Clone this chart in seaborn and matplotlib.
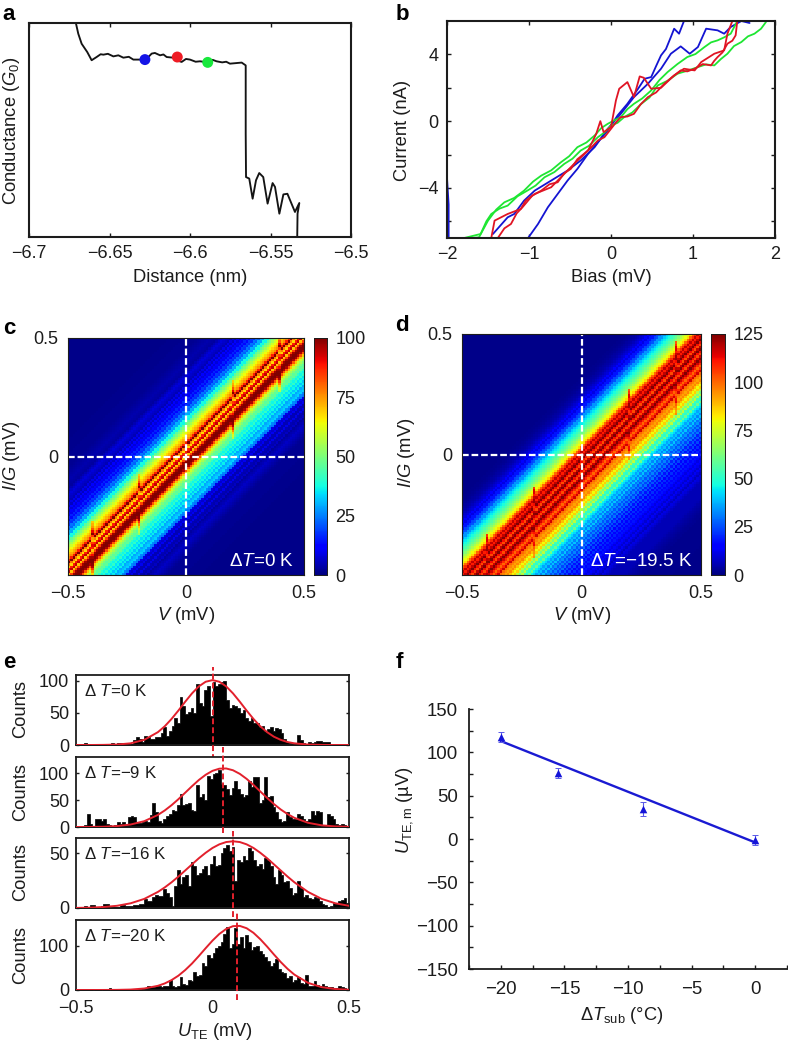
import numpy as np
import matplotlib
matplotlib.use('Agg')
import matplotlib.pyplot as plt
import seaborn as sns

W, H = 788, 1045

# panel a
dist = [-6.6708, -6.6694, -6.6673, -6.6638, -6.6611, -6.658, -6.6555, -6.6538, -6.651, -6.6476, -6.6445, -6.6414, -6.638, -6.6352, -6.63, -6.6269,
        -6.6238, -6.6218, -6.6186, -6.6165, -6.6145, -6.6104, -6.6075, -6.6052, -6.6025, -6.6, -6.5965, -6.5938, -6.5886, -6.586, -6.5835, -6.58, -6.5775, -6.5752, -6.5679,
        -6.5654, -6.5654, -6.5652, -6.5632, -6.5611, -6.559, -6.557, -6.5545, -6.5518, -6.5487, -6.5472, -6.5445,
        -6.542, -6.5395, -6.5348, -6.5321, -6.5332, -6.5334]
cond = [99.7, 95, 90.3, 86.4, 82.6, 84.1, 85.4, 85.2, 85.6, 84.4, 84.9, 83.8, 84.2, 82.9, 82.9, 83.3,
        85.7, 86, 84.9, 85.3, 84.1, 83.8, 82.4, 81.8, 83.2, 82.9, 81.9, 82.1, 81.6, 82.8, 82.1, 81.6, 81.9, 81, 81.5,
        80.2, 48.3, 28, 27.3, 17.9, 26.5, 29.9, 28, 15.6, 25.2, 23.4, 10.9,
        19.9, 20.2, 11.7, 15.9, 10.9, 0]
dot_x = [-6.628, -6.6079, -6.589]
dot_y = [82.9, 84.1, 81.6]
dot_colors = ['#1414e6', '#ee1c25', '#18e83c']

# panel b
blue1_x = [-1.02, -0.89, -0.77, -0.65, -0.53, -0.41, -0.28, -0.16, -0.04, 0.08, 0.20, 0.33, 0.41, 0.49, 0.55, 0.61, 0.67, 0.73, 0.77, 0.83, 0.89]
blue1_y = [-7.06, -6.16, -5.16, -4.36, -3.56, -2.86, -1.96, -1.26, -0.56, 0.34, 1.04, 1.94, 2.54, 2.64, 3.30, 3.94, 4.32, 5.04, 5.54, 5.24, 6.0]
blue2_x = [-1.44, -1.26, -1.18, -1.06, -0.93, -0.73, -0.53, -0.37, -0.20, -0.04, 0.12, 0.28, 0.45, 0.61, 0.73, 0.85, 0.96, 1.06, 1.16, 1.30, 1.38, 1.46, 1.59, 1.69]
blue2_y = [-6.76, -5.76, -5.56, -4.76, -4.16, -3.56, -2.96, -2.36, -1.56, -0.46, 0.44, 1.44, 2.24, 3.14, 4.04, 4.48, 4.04, 4.44, 5.54, 5.44, 5.24, 5.64, 6.0, 5.88]
spike_x = [-2.0, -1.98, -1.98]
spike_y = [-3.4, -5.0, -7.0]
red1_x = [-1.46, -1.42, -1.26, -1.10, -1.04, -0.93, -0.73, -0.61, -0.45, -0.28, -0.18, -0.13, -0.09, 0.0, 0.06, 0.10, 0.20, 0.28, 0.35, 0.40, 0.49, 0.61, 0.77, 0.89, 1.02, 1.10, 1.26, 1.38, 1.42, 1.48]
red1_y = [-7.0, -5.96, -5.56, -5.26, -4.76, -4.36, -3.96, -3.36, -2.56, -1.76, -0.76, 0.0, -0.66, -0.36, 1.24, 1.94, 2.34, 1.44, 2.68, 2.6, 1.94, 2.0, 2.74, 3.14, 3.04, 3.54, 4.04, 4.24, 5.24, 6.0]
red2_x = [-1.38, -1.30, -1.22, -1.15, -1.08, -0.96, -0.85, -0.75, -0.65, -0.57, -0.49, -0.41, -0.33, -0.25, -0.16, -0.08, 0.0, 0.06, 0.12, 0.20, 0.28, 0.36, 0.45, 0.55, 0.65, 0.75, 0.85, 0.93, 1.02, 1.12, 1.22, 1.26, 1.30, 1.36, 1.42, 1.48, 1.52, 1.54]
red2_y = [-7.0, -6.42, -6.16, -5.52, -5.16, -4.46, -4.16, -3.78, -3.66, -3.12, -2.86, -2.28, -1.96, -1.62, -1.16, -0.96, -0.46, -0.08, 0.24, 0.28, 0.44, 1.0, 1.44, 1.72, 2.24, 2.66, 3.04, 2.98, 3.14, 3.42, 3.34, 3.62, 3.84, 4.12, 4.64, 4.82, 5.14, 6.0]
green1_x = [-1.79, -1.59, -1.52, -1.46, -1.36, -1.26, -1.14, -1.02, -0.92, -0.81, -0.69, -0.57, -0.47, -0.37, -0.27, -0.16, -0.08, 0.0, 0.08, 0.16, 0.26, 0.37, 0.47, 0.57, 0.69, 0.81, 0.93, 1.06, 1.16, 1.26, 1.34, 1.42, 1.50, 1.59, 1.67, 1.75, 1.83, 1.89]
green1_y = [-7.0, -6.76, -6.0, -5.56, -5.24, -5.06, -4.50, -4.16, -3.86, -3.36, -3.05, -2.56, -2.25, -1.76, -1.48, -0.96, -0.68, -0.26, -0.10, 0.24, 0.52, 1.04, 1.42, 2.14, 2.42, 2.84, 3.02, 3.24, 3.40, 3.34, 3.72, 4.04, 4.50, 4.74, 5.08, 5.24, 5.54, 5.94]
green2_x = [-1.71, -1.61, -1.50, -1.40, -1.30, -1.18, -1.06, -0.95, -0.85, -0.73, -0.61, -0.51, -0.41, -0.30, -0.20, -0.12, -0.04, 0.04, 0.12, 0.20, 0.28, 0.38, 0.49, 0.59, 0.69, 0.81, 0.93, 1.03, 1.14, 1.22, 1.30, 1.38, 1.46, 1.54]
green2_y = [-7.0, -6.96, -5.96, -5.3, -4.86, -4.6, -4.16, -3.62, -3.26, -2.95, -2.46, -2.1, -1.56, -1.28, -0.86, -0.42, -0.16, 0.05, 0.24, 0.72, 1.04, 1.36, 1.84, 2.46, 2.94, 3.42, 3.84, 4.02, 4.44, 4.72, 4.84, 5.02, 5.24, 6.0]

# panels c and d: counts across the diagonal, read along I/G - V
map_c_offset = [0.6, 0.45, 0.40, 0.37, 0.34, 0.31, 0.30, 0.29, 0.28, 0.27, 0.26, 0.25, 0.24, 0.23, 0.22, 0.21, 0.20, 0.19, 0.18, 0.17, 0.16, 0.15, 0.14, 0.13, 0.12, 0.11, 0.10, 0.09, 0.08, 0.07, 0.06, 0.05, 0.04,
                0.03, 0.02, 0.01, 0.0, -0.01, -0.02, -0.03, -0.04, -0.05, -0.06, -0.07, -0.08, -0.09, -0.10, -0.11, -0.12, -0.13, -0.14, -0.15, -0.16, -0.17, -0.18,
                -0.19, -0.20, -0.21, -0.22, -0.23, -0.24, -0.25, -0.26, -0.27, -0.28, -0.29, -0.30, -0.31, -0.32, -0.33, -0.34, -0.37, -0.42, -0.6]
map_c_counts = [1, 2, 4, 3, 8, 5, 9, 6, 12, 8, 12, 10, 16, 13, 18, 17, 24, 22, 30, 29, 38, 37, 46, 50, 55, 60, 64, 68, 72, 76, 88, 100, 78,
                68, 88, 94, 70, 84, 97, 100, 100, 96, 82, 70, 60, 55, 50, 46, 47, 41, 37, 41, 35, 37, 32,
                36, 29, 31, 33, 26, 24, 9, 7, 10, 5, 5, 9, 5, 4, 6, 3, 6, 2, 1]
map_d_offset = [0.7, 0.35, 0.30, 0.26, 0.23, 0.22, 0.21, 0.20, 0.19, 0.18, 0.17, 0.16, 0.15, 0.14, 0.12, 0.10, 0.08, 0.06, 0.04, 0.03, 0.02, 0.01, 0.0, -0.01, -0.02, -0.03, -0.04, -0.05, -0.06,
                -0.07, -0.08, -0.09, -0.10, -0.11, -0.12, -0.13, -0.14, -0.15, -0.16, -0.17, -0.18, -0.19, -0.20, -0.21, -0.22, -0.23, -0.24, -0.25, -0.26, -0.27, -0.28, -0.29, -0.30,
                -0.31, -0.32, -0.33, -0.34, -0.35, -0.36, -0.37, -0.38, -0.39, -0.40, -0.41, -0.42, -0.43, -0.44, -0.45, -0.46, -0.47, -0.48, -0.49, -0.50,
                -0.52, -0.53, -0.55, -0.56, -0.58, -0.59, -0.62, -0.68, -0.75, -1.0]
map_d_counts = [1, 1, 2, 5, 10, 14, 11, 18, 18, 24, 26, 34, 34, 41, 48, 56, 64, 75, 85, 100, 108, 118, 110, 118, 125, 112, 104, 118, 125,
                112, 104, 116, 125, 116, 108, 100, 108, 116, 100, 96, 92, 96, 88, 80, 86, 72, 62, 72, 54, 50, 60, 46, 42,
                36, 40, 32, 40, 30, 34, 26, 32, 24, 30, 20, 26, 18, 24, 16, 21, 15, 20, 14, 18,
                11, 15, 9, 13, 7, 11, 6, 6, 2, 1]
streak_v = [-0.4, -0.2, 0.2, 0.4]

# panel e
counts_0 = [0, 0, 0, 3, 1, 0, 0, 0, 0, 0,
            0, 1, 2, 3, 2, 3, 3, 3, 3, 3,
            2, 8, 12, 10, 4, 14, 13, 9, 10, 12,
            13, 18, 28, 14, 22, 30, 42, 35, 74, 60,
            48, 52, 58, 50, 95, 65, 60, 85, 92, 45,
            98, 92, 95, 98, 100, 70, 58, 62, 60, 58,
            50, 55, 42, 38, 42, 35, 35, 28, 30, 22,
            25, 28, 22, 26, 25, 18, 10, 5, 3, 2,
            1, 15, 8, 3, 2, 5, 3, 5, 6, 7,
            4, 5, 5, 2, 0, 0, 0, 0, 0, 0]
counts_9 = [2, 2, 1, 3, 25, 6, 2, 14, 14, 12,
            15, 5, 3, 2, 3, 9, 5, 10, 3, 18,
            20, 18, 8, 8, 10, 12, 10, 22, 45, 28,
            12, 8, 14, 20, 25, 32, 30, 40, 62, 40,
            42, 45, 32, 30, 78, 55, 62, 50, 95, 90,
            98, 100, 105, 80, 78, 70, 60, 72, 85, 70,
            62, 55, 60, 85, 75, 92, 92, 45, 50, 92,
            55, 58, 38, 28, 15, 10, 12, 28, 18, 15,
            15, 25, 20, 15, 12, 14, 30, 22, 30, 28,
            2, 3, 25, 20, 14, 6, 4, 5, 4, 0]
counts_16 = [0, 0, 1, 2, 1, 3, 3, 1, 0, 2,
             4, 4, 1, 1, 1, 1, 3, 3, 2, 2,
             2, 3, 3, 4, 4, 8, 6, 6, 10, 12,
             11, 11, 17, 14, 10, 2, 20, 35, 22, 28,
             30, 20, 42, 38, 30, 32, 36, 38, 30, 40,
             48, 38, 39, 50, 55, 58, 52, 56, 25, 44,
             42, 48, 44, 55, 52, 44, 38, 40, 36, 46,
             44, 38, 28, 22, 35, 30, 24, 25, 18, 12,
             14, 25, 18, 10, 12, 9, 8, 10, 9, 6,
             4, 3, 1, 2, 5, 5, 6, 7, 9, 5]
counts_20 = [0, 0, 0, 0, 0, 0, 3, 1, 1, 3,
             0, 1, 4, 0, 0, 0, 0, 0, 0, 0,
             1, 3, 2, 1, 3, 2, 10, 6, 7, 8,
             10, 7, 8, 8, 22, 8, 6, 10, 30, 14,
             12, 22, 20, 40, 32, 35, 62, 55, 80, 72,
             85, 95, 100, 110, 128, 142, 95, 105, 140, 105,
             120, 95, 125, 110, 90, 98, 100, 88, 82, 75,
             65, 55, 62, 70, 48, 40, 38, 28, 32, 18,
             22, 30, 16, 14, 35, 10, 10, 20, 12, 10,
             13, 10, 6, 6, 4, 5, 8, 6, 5, 2]
fit_x = [-0.5, -0.45, -0.4, -0.35, -0.3, -0.25, -0.2, -0.175, -0.15, -0.125, -0.1, -0.075, -0.05, -0.025, 0.0,
         0.025, 0.05, 0.075, 0.1, 0.125, 0.15, 0.175, 0.2, 0.225, 0.25, 0.275, 0.3, 0.35, 0.4, 0.45, 0.5]
fit_0 = [0, 0, 0.2, 0.7, 2.6, 8, 20, 29.1, 40.6, 53.6, 67.4, 80.4, 91.3, 98.5, 101,
         98.5, 91.3, 80.4, 67.4, 53.6, 40.6, 29.1, 20, 12.9, 8, 4.6, 2.6, 0.7, 0.2, 0, 0]
fit_9 = [0, 0.15, 0.5, 1.7, 4.6, 10.8, 22.4, 30.7, 40.5, 51.6, 63.7, 75.8, 87.3, 97, 104.3,
         108.3, 108.7, 105.4, 98.7, 89.4, 78.2, 66, 54, 42.6, 32.5, 24, 17, 7.8, 3.1, 1.1, 0.3]
fit_16 = [0.1, 0.3, 0.9, 2, 4.3, 8.3, 14.7, 18.8, 23.5, 28.7, 34.3, 39.9, 45.5, 50.5, 54.9,
          58.2, 60.3, 61, 60.3, 58.2, 54.9, 50.5, 45.5, 39.9, 34.3, 28.7, 23.5, 14.7, 8.3, 4.3, 2]
fit_20 = [0, 0, 0.1, 0.3, 1, 3.4, 9.5, 14.9, 22.5, 32.5, 45.3, 60.2, 77.2, 95, 112.2,
          127.3, 138.6, 145, 145.6, 140.3, 129.9, 115.4, 98.6, 80.7, 63.5, 48, 34.9, 16.2, 6.4, 2.2, 0.6]
peak_pos = [0.0, 0.04, 0.075, 0.09]
peak_low = [-23, -12, -8, -23]
peak_high = [122, 148, 70.5, 174]
hist_labels = ['Δ $T$=0 K', 'Δ $T$=−9 K', 'Δ $T$=−16 K', 'Δ $T$=−20 K']
hist_tops = [109, 130, 64, 159]

# panel f
dt_sub = [-20, -15.5, -8.8, 0]
u_te = [118, 76, 35, -1]
u_err = [6, 6, 8, 6]
fit_dt = [-20, 0]
fit_u = [113, -4]

sns.set_theme(style='ticks')
plt.rcParams['font.family'] = ['Liberation Sans', 'DejaVu Sans']
plt.rcParams['mathtext.fontset'] = 'custom'
plt.rcParams['mathtext.rm'] = 'Liberation Sans'
plt.rcParams['mathtext.it'] = 'Liberation Sans:italic'
plt.rcParams['mathtext.bf'] = 'Liberation Sans:bold'
plt.rcParams['axes.unicode_minus'] = True
FS = 13
INK = '#1c1c1c'

fig = plt.figure(figsize=(W / 100, H / 100), dpi=100, facecolor='white')


def add_ax(left, top, right, bottom):
    return fig.add_axes([left / W, 1 - bottom / H, (right - left) / W, (bottom - top) / H])


def xlabel_at(ax, text, x, y):
    ax.set_xlabel(text, fontsize=FS + 0.2, color=INK, va='center', ha='center')
    ax.xaxis.set_label_coords(x / W, 1 - y / H, transform=fig.transFigure)


def ylabel_at(ax, text, x, y):
    ax.set_ylabel(text, fontsize=FS + 0.2, color=INK, va='center', ha='center', rotation=90)
    ax.yaxis.set_label_coords(x / W, 1 - y / H, transform=fig.transFigure)


def box(ax, lw=1.5):
    for s in ax.spines.values():
        s.set_visible(True)
        s.set_linewidth(lw)
        s.set_color(INK)


# a
ax = add_ax(29, 23, 351, 237)
sns.lineplot(x=dist, y=cond, sort=False, estimator=None, color='#141414', lw=1.35, ax=ax)
sns.scatterplot(x=dot_x, y=dot_y, c=dot_colors, s=62, linewidth=0, zorder=5, ax=ax)
ax.set_xlim(-6.7, -6.5)
ax.set_ylim(0, 100)
ax.set_xticks([-6.7, -6.65, -6.6, -6.55, -6.5])
ax.set_xticklabels(['−6.7', '−6.65', '−6.6', '−6.55', '−6.5'])
ax.set_yticks([])
ax.tick_params(axis='x', direction='in', top=True, length=3, width=1, labelsize=FS, pad=6, colors=INK)
box(ax)
xlabel_at(ax, 'Distance (nm)', 190, 278)
ylabel_at(ax, 'Conductance ($G_0$)', 12, 131)

# b
ax = add_ax(447, 21, 775, 238)
lines_b = [(spike_x, spike_y, '#1414d2'), (blue1_x, blue1_y, '#1414d2'), (blue2_x, blue2_y, '#1414d2'),
           (green1_x, green1_y, '#1ee632'), (green2_x, green2_y, '#1ee632'),
           (red1_x, red1_y, '#e01424'), (red2_x, red2_y, '#e01424')]
for lx, ly, col in lines_b:
    sns.lineplot(x=lx, y=ly, sort=False, estimator=None, color=col, lw=1.3, ax=ax)
ax.set_xlim(-2, 2)
ax.set_ylim(-7, 6)
ax.set_xticks([-2, -1, 0, 1, 2])
ax.set_xticklabels(['−2', '−1', '0', '1', '2'])
ax.set_yticks([-4, 0, 4])
ax.set_yticklabels(['−4', '0', '4'])
ax.set_yticks([-6, -2, 2], minor=True)
ax.tick_params(which='both', direction='in', top=True, right=True, length=3, width=1, labelsize=FS, pad=6, colors=INK)
box(ax)
xlabel_at(ax, 'Bias (mV)', 611, 278)
ylabel_at(ax, 'Current (nA)', 403, 130)

# c and d
n_cells = 101
cell_v = np.linspace(-0.5, 0.5, n_cells)
grid_v, grid_g = np.meshgrid(cell_v, cell_v)


def draw_map(box_map, box_bar, offsets, counts, vmax, bar_ticks, note, note_xy, lab_x, lab_y, band):
    ax = add_ax(*box_map)
    cax = add_ax(*box_bar)
    off = grid_g - grid_v
    z = np.interp(off, offsets[::-1], counts[::-1])
    # the vertical smears at +-0.2 and +-0.4 mV widen the band in a few columns
    mid = (band[0] + band[1]) / 2
    for v in streak_v:
        col = np.abs(cell_v - v) < 0.008
        smear = np.interp(mid + (off[:, col] - mid) * 0.72, offsets[::-1], counts[::-1])
        inside = (off[:, col] > band[0]) & (off[:, col] < band[1])
        z[:, col] = np.where(inside, smear, z[:, col])
    sns.heatmap(z, cmap='jet', vmin=0, vmax=vmax, ax=ax, cbar_ax=cax, xticklabels=False, yticklabels=False)
    ax.set_ylim(0, n_cells)
    pos = [0, n_cells / 2, n_cells]
    ax.set_xticks(pos)
    ax.set_xticklabels(['−0.5', '0', '0.5'])
    ax.set_yticks(pos)
    ax.set_yticklabels(['−0.5', '0', '0.5'], rotation=0)
    ax.get_yticklabels()[0].set_visible(False)
    ax.tick_params(length=0, labelsize=FS, pad=7, colors=INK)
    ax.axvline(n_cells / 2, color='white', lw=1.6, dashes=(3, 1.3))
    ax.axhline(n_cells / 2, color='white', lw=1.6, dashes=(3, 1.3))
    box(ax, 0.8)
    cax.set_yticks(bar_ticks)
    cax.set_yticklabels([str(t) for t in bar_ticks])
    cax.tick_params(length=0, labelsize=FS, pad=6, colors=INK)
    box(cax, 0.6)
    fig.text(note_xy[0] / W, 1 - note_xy[1] / H, note, color='white', fontsize=13.6, ha='center', va='center')
    xlabel_at(ax, '$V$ (mV)', lab_x, 616)
    ylabel_at(ax, '$I/G$ (mV)', 12 if lab_x < 300 else 406, lab_y)
    return ax


draw_map((68, 338, 304, 575), (314, 338, 327, 575), map_c_offset, map_c_counts, 100, [0, 25, 50, 75, 100],
         'Δ$T$=0 K', (262, 561), 186, 456, (-0.13, 0.13))
draw_map((462, 334, 701, 575), (711, 334, 725, 575), map_d_offset, map_d_counts, 125, [0, 25, 50, 75, 100, 125],
         'Δ$T$=−19.5 K', (641, 561), 582, 453, (-0.23, 0.07))

# e
edges = np.linspace(-0.5, 0.5, 101)
centres = (edges[:-1] + edges[1:]) / 2
rows = [(675, 745), (757, 827), (838, 908), (920, 990)]
hist_counts = [counts_0, counts_9, counts_16, counts_20]
hist_fits = [fit_0, fit_9, fit_16, fit_20]
hist_yticks = [[0, 50, 100], [0, 50, 100], [0, 50], [0, 100]]
label_rows = [709, 792, 872, 955]
e_axes = []
for i, (top, bottom) in enumerate(rows):
    ax = add_ax(76, top, 349, bottom)
    sns.histplot(x=centres, weights=hist_counts[i], bins=100, binrange=(-0.5, 0.5), element='step', color='black',
                 alpha=1, linewidth=0.5, edgecolor='black', ax=ax)
    sns.lineplot(x=fit_x, y=hist_fits[i], color='#e2202c', lw=1.4, ax=ax, zorder=4)
    ax.set_xlim(-0.5, 0.5)
    ax.set_ylim(0, hist_tops[i])
    ax.set_yticks(hist_yticks[i])
    ax.set_yticklabels([str(t) for t in hist_yticks[i]])
    ax.tick_params(axis='y', direction='in', right=True, length=2.5, width=1, labelsize=FS, pad=5, colors=INK)
    if i == 3:
        ax.set_xticks([-0.5, 0, 0.5])
        ax.set_xticklabels(['−0.5', '0', '0.5'])
        ax.tick_params(axis='x', length=0, labelsize=FS, pad=7, colors=INK)
    else:
        ax.set_xticks([])
    box(ax, 1.3)
    ax.vlines(peak_pos[i], peak_low[i], peak_high[i], color='#e2202c', lw=1.4, linestyles=(0, (3, 1.6)), clip_on=False, zorder=6)
    ax.text(0.03, 0.77, hist_labels[i], transform=ax.transAxes, fontsize=12.2, color=INK, ha='left', va='center')
    xlabel_at(ax, '', 215, 1032)
    ylabel_at(ax, 'Counts', 21, label_rows[i])
    e_axes.append(ax)
xlabel_at(e_axes[3], '$U_{\\mathrm{TE}}$ (mV)', 215, 1032)

# f
ax = add_ax(469, 709, 787, 969)
sns.lineplot(x=fit_dt, y=fit_u, color='#1a1ad2', lw=1.7, ax=ax)
ax.errorbar(dt_sub, u_te, yerr=u_err, fmt='none', ecolor='#5a5ae8', elinewidth=0.8, capsize=2.4, capthick=0.7)
sns.scatterplot(x=dt_sub, y=u_te, marker='^', color='#1414d8', s=30, linewidth=0, zorder=5, ax=ax)
ax.set_xlim(-22.5, 2.5)
ax.set_ylim(-150, 150)
ax.set_xticks([-20, -15, -10, -5, 0])
ax.set_xticklabels(['−20', '−15', '−10', '−5', '0'])
ax.set_yticks([-150, -100, -50, 0, 50, 100, 150])
ax.set_yticklabels(['−150', '−100', '−50', '0', '50', '100', '150'])
ax.set_xticks([-22.5, -17.5, -12.5, -7.5, -2.5, 2.5], minor=True)
ax.set_yticks([-125, -75, -25, 25, 75, 125], minor=True)
ax.tick_params(which='both', direction='in', length=3, width=1, labelsize=13.4, colors=INK)
ax.tick_params(axis='y', which='major', pad=8)
ax.tick_params(axis='x', which='major', pad=9)
for side in ['top', 'right']:
    ax.spines[side].set_visible(False)
for side in ['left', 'bottom']:
    ax.spines[side].set_linewidth(1.3)
    ax.spines[side].set_color(INK)
xlabel_at(ax, 'Δ$T_{\\mathrm{sub}}$ (°C)', 622, 1015)
ylabel_at(ax, '$U_{\\mathrm{TE,m}}$ (µV)', 405, 810)

# panel letters
for letter, px, py in [('a', 9, 15), ('b', 402, 14), ('c', 9, 328), ('d', 402, 326), ('e', 9, 663), ('f', 399, 663)]:
    fig.text(px / W, 1 - py / H, letter, fontsize=16, fontweight='bold', color='black', ha='center', va='center')

fig.savefig('out.png', dpi=100)
